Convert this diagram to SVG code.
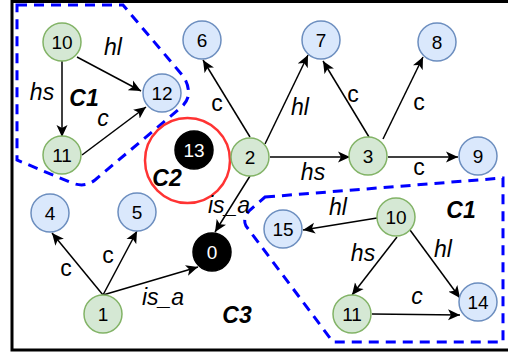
<svg xmlns="http://www.w3.org/2000/svg" width="508" height="354" viewBox="0 0 508 354">
<defs>
<marker id="arr" viewBox="0 -6 12 12" markerWidth="12" markerHeight="12" refX="12" refY="0" markerUnits="userSpaceOnUse" orient="auto">
<path d="M0,-5.5 L12,0 L0,5.5 L3,0 Z" fill="#000"/>
</marker>
<style>
text{font-family:"Liberation Sans",Arial,sans-serif;text-anchor:middle;dominant-baseline:central}
.g{fill:#d5e8d4;stroke:#82b366;stroke-width:1.5}
.b{fill:#dae8fc;stroke:#6c8ebf;stroke-width:1.5}
.k{fill:#000;stroke:#000;stroke-width:1.5}
.n{font-size:19px;fill:#000}
.w{font-size:19px;fill:#fff}
.l{font-size:23px;font-style:italic}
.c{font-size:23px}
.cl{font-size:23px;font-style:italic;font-weight:bold}
.e{stroke:#000;stroke-width:1.5;fill:none;marker-end:url(#arr)}
.grp{fill:none;stroke:#0000ff;stroke-width:3;stroke-dasharray:10 7}
</style>
</defs>
<rect x="12" y="1.5" width="500" height="348.5" fill="#fff" stroke="#000" stroke-width="3"/>
<g id="groups">
<path class="grp" d="M17,5 L123,5 L183,76 Q190,86 188,97 Q186,104 178,110 L95,180 Q85,188 72,183 L17,160 Z"/>
<path class="grp" d="M265,197 L503,178 L503,342 L333,342 L246,226 Q242,218 250,210 Z"/>
<circle cx="187.5" cy="160.5" r="42.5" fill="none" stroke="#ff3333" stroke-width="2.5"/>
</g>
<g id="connectors">
<line class="e" x1="62" y1="61" x2="62" y2="137"/>
<line class="e" x1="77" y1="57" x2="141" y2="91"/>
<line class="e" x1="82" y1="155" x2="146" y2="107"/>
<line class="e" x1="250" y1="137" x2="203" y2="60"/>
<line class="e" x1="265" y1="144" x2="308" y2="55"/>
<line class="e" x1="270" y1="157" x2="350" y2="157"/>
<line class="e" x1="369" y1="137" x2="323" y2="61"/>
<line class="e" x1="383" y1="139" x2="423" y2="57"/>
<line class="e" x1="388" y1="157" x2="458" y2="157"/>
<line class="e" x1="103" y1="295" x2="52" y2="233"/>
<line class="e" x1="103" y1="295" x2="137" y2="231"/>
<line class="e" x1="103" y1="295" x2="198" y2="267"/>
<line class="e" x1="250" y1="176" x2="215" y2="232"/>
<line class="e" x1="377" y1="218" x2="303" y2="230"/>
<line class="e" x1="397" y1="237" x2="352" y2="295"/>
<line class="e" x1="410" y1="230" x2="460" y2="298"/>
<line class="e" x1="372" y1="314" x2="460" y2="315"/>
</g>
<g id="labels">
<text class="l" x="113" y="47">hl</text>
<text class="l" x="42" y="92">hs</text>
<text class="cl" x="84" y="98">C1</text>
<text class="l" x="103" y="118">c</text>
<text class="cl" x="167" y="178">C2</text>
<text class="l" x="229" y="205">is_a</text>
<text class="c" x="217" y="103">c</text>
<text class="l" x="300" y="107">hl</text>
<text class="l" x="313" y="172">hs</text>
<text class="c" x="353" y="94">c</text>
<text class="c" x="419" y="102">c</text>
<text class="c" x="419" y="167">c</text>
<text class="c" x="66" y="268">c</text>
<text class="c" x="108" y="255">c</text>
<text class="l" x="163" y="297">is_a</text>
<text class="cl" x="237" y="315">C3</text>
<text class="l" x="338" y="207">hl</text>
<text class="cl" x="461" y="210">C1</text>
<text class="l" x="363" y="253">hs</text>
<text class="l" x="443" y="249">hl</text>
<text class="l" x="417" y="296">c</text>
</g>
<g id="node-10a"><circle class="g" cx="62" cy="42" r="19"/><text class="n" x="62" y="42">10</text></g>
<g id="node-12"><circle class="b" cx="162" cy="93" r="19"/><text class="n" x="162" y="93">12</text></g>
<g id="node-11a"><circle class="g" cx="62" cy="155" r="19"/><text class="n" x="62" y="155">11</text></g>
<g id="node-13"><circle class="k" cx="194" cy="150" r="19"/><text class="w" x="194" y="150">13</text></g>
<g id="node-2"><circle class="g" cx="250" cy="157" r="19"/><text class="n" x="250" y="157">2</text></g>
<g id="node-6"><circle class="b" cx="202" cy="40" r="19"/><text class="n" x="202" y="40">6</text></g>
<g id="node-7"><circle class="b" cx="321" cy="40" r="19"/><text class="n" x="321" y="40">7</text></g>
<g id="node-8"><circle class="b" cx="437" cy="42" r="19"/><text class="n" x="437" y="42">8</text></g>
<g id="node-3"><circle class="g" cx="368" cy="156" r="19"/><text class="n" x="368" y="156">3</text></g>
<g id="node-9"><circle class="b" cx="478" cy="156" r="19"/><text class="n" x="478" y="156">9</text></g>
<g id="node-4"><circle class="b" cx="50" cy="213" r="19"/><text class="n" x="50" y="213">4</text></g>
<g id="node-5"><circle class="b" cx="137" cy="212" r="19"/><text class="n" x="137" y="212">5</text></g>
<g id="node-0"><circle class="k" cx="212" cy="252" r="19"/><text class="w" x="212" y="252">0</text></g>
<g id="node-1"><circle class="g" cx="103" cy="314" r="19"/><text class="n" x="103" y="314">1</text></g>
<g id="node-10b"><circle class="g" cx="396" cy="217" r="19"/><text class="n" x="396" y="217">10</text></g>
<g id="node-15"><circle class="b" cx="283" cy="229" r="19"/><text class="n" x="283" y="229">15</text></g>
<g id="node-11b"><circle class="g" cx="352" cy="314" r="19"/><text class="n" x="352" y="314">11</text></g>
<g id="node-14"><circle class="b" cx="478" cy="302" r="19"/><text class="n" x="478" y="302">14</text></g>
</svg>
